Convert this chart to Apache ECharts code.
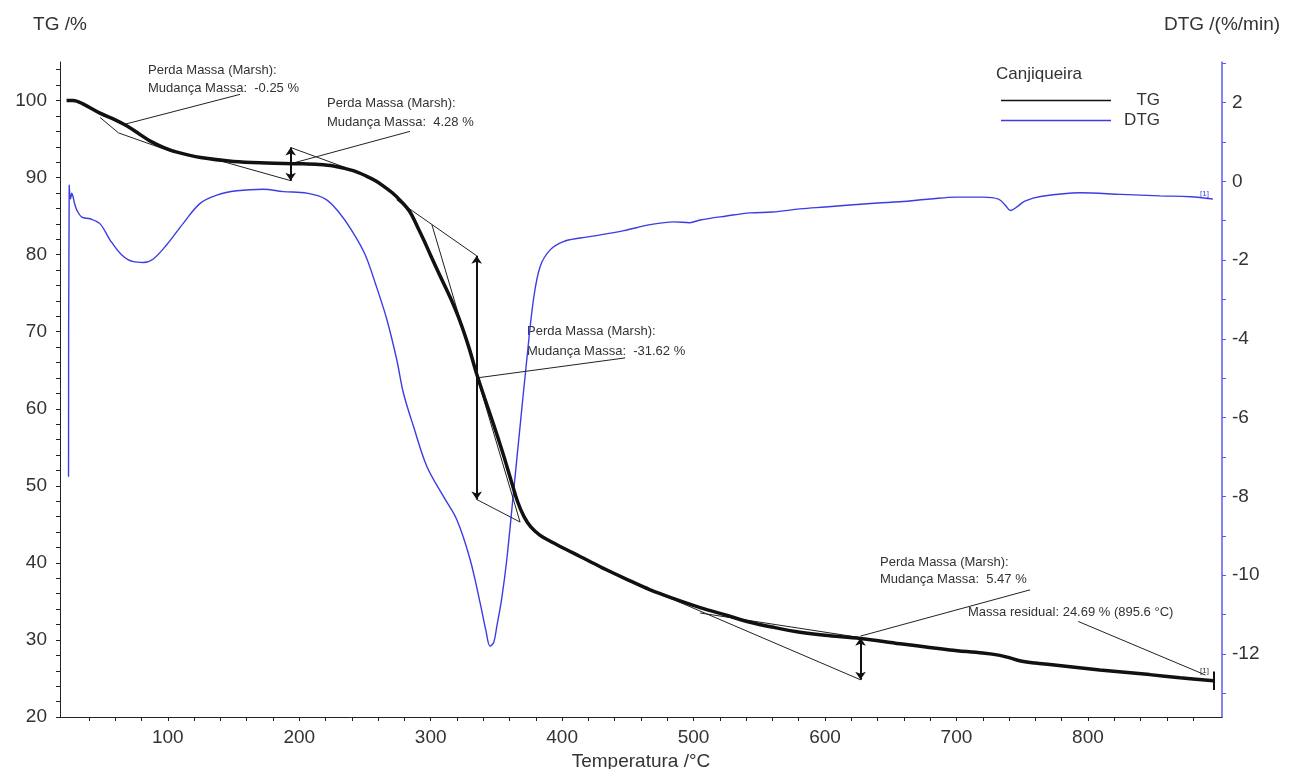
<!DOCTYPE html>
<html>
<head>
<meta charset="utf-8">
<script src="https://cdn.jsdelivr.net/npm/echarts@6.0.0/dist/echarts.min.js"></script>
<style>
  html, body { margin: 0; padding: 0; background: #fff; }
  #chart { width: 1293px; height: 769px; }
</style>
</head>
<body>
<div id="chart"></div>
<script>
// ---- TG curve (temperature °C, mass %) ----
const tgTemp = [23, 28, 35, 48, 60, 69, 78, 87, 97, 107, 125, 150, 175, 200, 215, 226, 241, 251, 258, 264, 271, 277, 284, 290, 295, 300, 307, 315, 322, 329, 335, 341, 348, 355, 361, 366, 371, 376, 383, 390, 400, 414, 429, 450, 467, 486, 505, 525, 543, 562, 581, 600, 627, 657, 695, 720, 733, 740, 748, 760, 771, 809, 847, 870, 895.6];
const tgMass = [100.0, 100.0, 99.6, 98.4, 97.5, 96.7, 95.7, 94.7, 93.9, 93.3, 92.6, 92.1, 91.9, 91.8, 91.7, 91.5, 90.9, 90.2, 89.6, 88.9, 88.0, 87.0, 85.6, 83.6, 81.8, 79.9, 77.3, 74.4, 71.5, 68.0, 64.5, 61.4, 57.9, 54.2, 50.8, 48.0, 46.0, 44.7, 43.6, 42.9, 42.0, 40.8, 39.5, 37.8, 36.5, 35.3, 34.2, 33.2, 32.3, 31.6, 31.0, 30.6, 30.2, 29.5, 28.7, 28.3, 28.0, 27.7, 27.3, 27.0, 26.8, 26.1, 25.5, 25.1, 24.69];

// ---- DTG curve (temperature °C, %/min) ----
const dtgTemp = [24.5, 25.0, 26.0, 27.0, 28.0, 29.0, 30.8, 34.6, 40.9, 48.5, 56.1, 65, 73.8, 81.4, 89, 99.2, 111.9, 124.6, 137.3, 152.5, 172.7, 187.9, 205.8, 220, 230, 240, 250, 258, 266.6, 274.2, 279.3, 286.9, 297.1, 309.7, 319.9, 330, 337.6, 342, 345.2, 348, 350.3, 354, 357.9, 363, 368, 373.1, 378.2, 383.3, 390.9, 401, 413.7, 429, 447, 467, 485, 497, 505, 525, 543, 560, 581, 600, 619, 640, 657, 680, 700, 720, 732, 737, 741, 746, 752, 765, 794, 825, 855, 878, 895];
const dtgRate = [-7.5, -0.1, -0.45, -0.3, -0.4, -0.55, -0.73, -0.91, -0.95, -1.08, -1.49, -1.87, -2.04, -2.06, -1.97, -1.61, -1.06, -0.56, -0.35, -0.24, -0.20, -0.26, -0.30, -0.45, -0.78, -1.25, -1.85, -2.6, -3.5, -4.53, -5.38, -6.22, -7.24, -8.0, -8.59, -9.6, -10.7, -11.4, -11.8, -11.7, -11.3, -10.6, -9.6, -7.9, -6.22, -4.53, -3.0, -2.16, -1.74, -1.53, -1.44, -1.36, -1.25, -1.1, -1.03, -1.05, -0.98, -0.88, -0.80, -0.78, -0.70, -0.65, -0.60, -0.55, -0.52, -0.45, -0.40, -0.40, -0.45, -0.6, -0.74, -0.65, -0.50, -0.38, -0.29, -0.33, -0.37, -0.39, -0.45];

// ---- axis ticks / labels ----
const xLabelValues = [100, 200, 300, 400, 500, 600, 700, 800];
const xTickValues = [40, 60, 80, 100, 120, 140, 160, 180, 200, 220, 240, 260, 280, 300, 320, 340, 360, 380, 400, 420, 440, 460, 480, 500, 520, 540, 560, 580, 600, 620, 640, 660, 680, 700, 720, 740, 760, 780, 800, 820, 840, 860, 880];
const tgLabelValues = [20, 30, 40, 50, 60, 70, 80, 90, 100];
const tgTickValues = [20, 22, 24, 26, 28, 30, 32, 34, 36, 38, 40, 42, 44, 46, 48, 50, 52, 54, 56, 58, 60, 62, 64, 66, 68, 70, 72, 74, 76, 78, 80, 82, 84, 86, 88, 90, 92, 94, 96, 98, 100, 102, 104];
const dtgLabelValues = [-12, -10, -8, -6, -4, -2, 0, 2];
const dtgTickValues = [-13, -12, -11, -10, -9, -8, -7, -6, -5, -4, -3, -2, -1, 0, 1, 2, 3];

// ---- Marsh construction lines (data space: °C, %) ----
const step1Tangent = [[48.5, 97.8], [62.5, 95.8], [105.5, 93.2]];
const step1Leader = [[66.8, 96.9], [155, 100.8]];
const step2Arrow = [[193.5, 93.9], [193.5, 89.6]];
const step2Lower = [[137.3, 92.3], [193.5, 89.6]];
const step2Upper = [[193.5, 93.9], [235.2, 91.3]];
const step2Leader = [[193.5, 91.8], [284.3, 96.0]];
const step3Arrow = [[335, 79.85], [335, 48.23]];
const step3Upper = [[274.2, 87.1], [335, 79.85]];
const step3Steep = [[300.9, 83.9], [368, 45.3]];
const step3Lower = [[335, 48.23], [368, 45.3]];
const step3Leader = [[335, 64.0], [448, 66.6]];
const step4Arrow = [[627, 30.3], [627, 24.83]];
const step4Lower = [[429, 39.3], [627, 24.83]];
const step4Upper = [[505, 33.5], [627, 30.3]];
const step4Leader = [[627, 30.5], [756, 36.5]];
const residualLeader = [[792.6, 32.4], [889.4, 25.45]];
const residualMark = [[895.6, 23.5], [895.6, 25.9]];

const FONT = '"Liberation Sans", Arial, sans-serif';
const TXT = '#333';
const BLUE = '#3c3ce6';

const tgData = tgTemp.map((t, i) => [t, tgMass[i]]);
const dtgData = dtgTemp.map((t, i) => [t, dtgRate[i]]);

const thinLines = [step1Tangent, step1Leader, step2Lower, step2Upper, step2Leader,
  step3Upper, step3Steep, step3Lower, step3Leader, step4Lower, step4Upper, step4Leader,
  residualLeader].map(c => ({ coords: c }));
const arrows = [step2Arrow, step3Arrow, step4Arrow].map(c => ({ coords: c }));

const chart = echarts.init(document.getElementById('chart'), null, { renderer: 'canvas' });

function annot(x, y, text, size) {
  return {
    type: 'text', x: x, y: y, silent: true,
    style: { text: text, font: (size || 13) + 'px ' + FONT, fill: TXT, verticalAlign: 'middle' }
  };
}

const option = {
  animation: false,
  backgroundColor: '#fff',
  grid: { left: 60, right: 71, top: 62, bottom: 52, containLabel: false, outerBoundsMode: 'none' },
  legend: {
    data: ['TG', 'DTG'],
    orient: 'vertical',
    left: 996, top: 87,
    icon: 'rect',
    itemWidth: 110, itemHeight: 1.5, itemGap: 3,
    formatter: '{a|{name}}',
    textStyle: {
      color: TXT, fontFamily: FONT, fontSize: 17,
      rich: { a: { width: 44, align: 'right', fontSize: 17, lineHeight: 23, fontFamily: FONT, color: TXT } }
    }
  },
  xAxis: {
    type: 'value', min: 18, max: 902,
    name: 'Temperatura /°C', nameLocation: 'middle', nameGap: 34,
    nameTextStyle: { color: TXT, fontFamily: FONT, fontSize: 19 },
    axisLine: { show: true, onZero: false, lineStyle: { color: '#222', width: 1 } },
    axisTick: { show: true, customValues: xTickValues, length: 4, lineStyle: { color: '#222' } },
    axisLabel: { customValues: xLabelValues, color: TXT, fontFamily: FONT, fontSize: 19, margin: 11 },
    splitLine: { show: false }
  },
  yAxis: [
    {
      type: 'value', min: 20, max: 105, position: 'left',
      name: 'TG /%', nameLocation: 'end', nameGap: 28,
      nameTextStyle: { color: TXT, fontFamily: FONT, fontSize: 19, align: 'center' },
      axisLine: { show: true, onZero: false, lineStyle: { color: '#222', width: 1 } },
      axisTick: { show: true, customValues: tgTickValues, length: 4, lineStyle: { color: '#222' } },
      axisLabel: { customValues: tgLabelValues, color: TXT, fontFamily: FONT, fontSize: 19, margin: 13 },
      splitLine: { show: false }
    },
    {
      type: 'value', min: -13.6, max: 3.03, position: 'right',
      name: 'DTG /(%/min)', nameLocation: 'end', nameGap: 28,
      nameTextStyle: { color: TXT, fontFamily: FONT, fontSize: 19, align: 'center' },
      axisLine: { show: true, onZero: false, lineStyle: { color: '#5a5af0', width: 1.5 } },
      axisTick: { show: true, customValues: dtgTickValues, length: 4, lineStyle: { color: '#5a5af0' } },
      axisLabel: { customValues: dtgLabelValues, color: TXT, fontFamily: FONT, fontSize: 19, margin: 10 },
      splitLine: { show: false }
    }
  ],
  series: [
    {
      name: 'DTG', type: 'line', yAxisIndex: 1, data: dtgData,
      showSymbol: false, symbol: 'none', smooth: 0.35,
      lineStyle: { color: BLUE, width: 1.4 }, itemStyle: { color: BLUE }, z: 2
    },
    {
      name: 'Marsh', type: 'lines', coordinateSystem: 'cartesian2d', xAxisIndex: 0, yAxisIndex: 0,
      polyline: true, data: thinLines, silent: true,
      lineStyle: { color: '#222', width: 1, opacity: 1 }, z: 3
    },
    {
      name: 'TG', type: 'line', yAxisIndex: 0, data: tgData,
      showSymbol: false, symbol: 'none', smooth: 0.35,
      lineStyle: { color: '#111', width: 3.5 }, itemStyle: { color: '#111' }, z: 4
    },
    {
      name: 'Arrows', type: 'lines', coordinateSystem: 'cartesian2d', xAxisIndex: 0, yAxisIndex: 0,
      data: arrows, silent: true, symbol: ['arrow', 'arrow'], symbolSize: 8,
      lineStyle: { color: '#111', width: 2, opacity: 1 }, z: 5
    },
    {
      name: 'Residual', type: 'lines', coordinateSystem: 'cartesian2d', xAxisIndex: 0, yAxisIndex: 0,
      data: [{ coords: residualMark }], silent: true,
      lineStyle: { color: '#111', width: 2, opacity: 1 }, z: 5
    }
  ],
  graphic: [
    annot(996, 74, 'Canjiqueira', 17),
    annot(148, 70, 'Perda Massa (Marsh):'),
    annot(148, 88, 'Mudança Massa:  -0.25 %'),
    annot(327, 103, 'Perda Massa (Marsh):'),
    annot(327, 122, 'Mudança Massa:  4.28 %'),
    annot(527, 331, 'Perda Massa (Marsh):'),
    annot(527, 351, 'Mudança Massa:  -31.62 %'),
    annot(880, 562, 'Perda Massa (Marsh):'),
    annot(880, 579, 'Mudança Massa:  5.47 %'),
    annot(968, 612, 'Massa residual: 24.69 % (895.6 °C)'),
    { type: 'text', x: 1200, y: 194, silent: true,
      style: { text: '[1]', font: '8px ' + FONT, fill: BLUE, verticalAlign: 'middle' } },
    { type: 'text', x: 1200, y: 671, silent: true,
      style: { text: '[1]', font: '8px ' + FONT, fill: TXT, verticalAlign: 'middle' } }
  ]
};

chart.setOption(option);
</script>
</body>
</html>
